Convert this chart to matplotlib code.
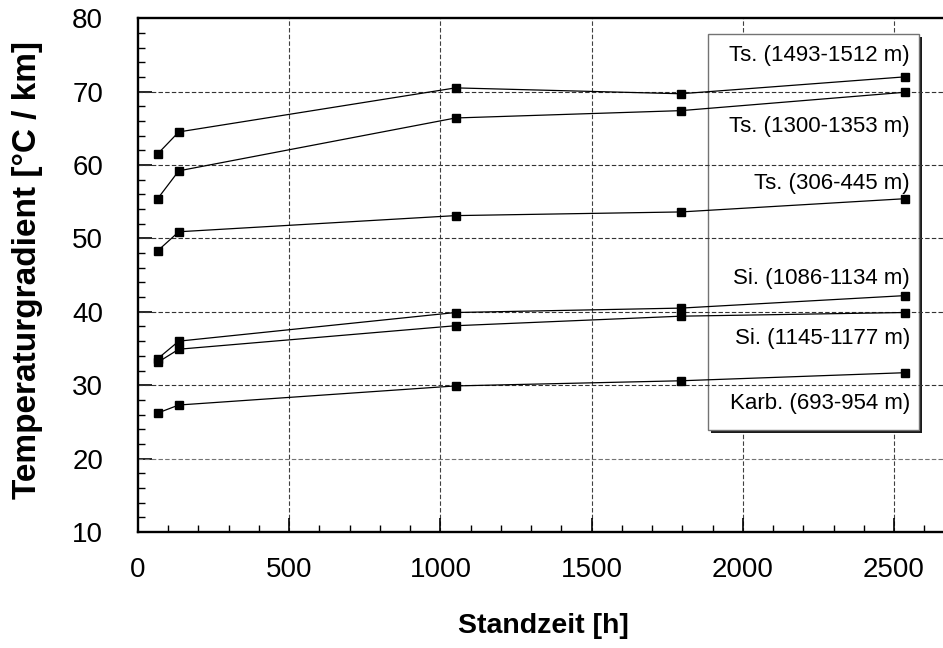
import matplotlib.pyplot as plt
from matplotlib.patches import Rectangle

plt.rcParams['font.family'] = ['Liberation Sans', 'DejaVu Sans']

# Standzeit [h]
zeit = [65, 135, 1050, 1795, 2535]

# Temperaturgradient [°C / km]
ts_1493 = [61.5, 64.5, 70.5, 69.7, 72.0]
ts_1300 = [55.4, 59.2, 66.4, 67.4, 69.9]
ts_306 = [48.3, 50.9, 53.1, 53.6, 55.4]
si_1086 = [33.6, 36.0, 39.9, 40.5, 42.2]
si_1145 = [33.1, 34.9, 38.1, 39.4, 39.9]
karb = [26.2, 27.3, 29.9, 30.6, 31.7]

labels = ["Ts. (1493-1512 m)", "Ts. (1300-1353 m)", "Ts. (306-445 m)",
          "Si. (1086-1134 m)", "Si. (1145-1177 m)", "Karb. (693-954 m)"]
label_y = [0.928, 0.790, 0.679, 0.494, 0.377, 0.251]

x_major = [0, 500, 1000, 1500, 2000, 2500]
y_major = [10, 20, 30, 40, 50, 60, 70, 80]

fig = plt.figure(figsize=(9.43, 6.48), dpi=100)
ax = fig.add_axes([0.1463, 0.179, 0.8537, 0.793])

for series in [ts_1493, ts_1300, ts_306, si_1086, si_1145, karb]:
    ax.plot(zeit, series, color="black", lw=0.9, marker="s", ms=6.3,
            mfc="black", mec="black", zorder=4)

ax.set_xlim(0, 2662)
ax.set_ylim(10, 80)
ax.set_xticks(x_major)
ax.set_xticks(range(0, 2700, 100), minor=True)
ax.set_yticks(y_major)
ax.set_yticks(range(10, 81, 2), minor=True)
ax.tick_params(which="major", direction="in", length=10, width=1.2,
               labelsize=20)
ax.tick_params(which="minor", direction="in", length=5, width=1.0)
ax.tick_params(axis="x", pad=18)
ax.tick_params(axis="y", pad=25)

# grid: vertical lines below the label box, horizontal ones across it
for xv in x_major[1:]:
    ax.axvline(xv, color="0.25", lw=0.8, ls=(0, (4, 2)), zorder=0.5)
for yv in y_major[1:-1]:
    ax.axhline(yv, color="0.45" if yv == 20 else "0.2", lw=0.8,
               ls=(0, (4, 2)), zorder=2)

for s in ax.spines.values():
    s.set_linewidth(1.7)
    s.set_zorder(5)
ax.spines["right"].set_visible(False)

ax.set_xlabel("Standzeit [h]", fontsize=20.5, fontweight="bold")
ax.xaxis.set_label_coords(0.504, -0.158)
ax.text(-0.137, 0.51, "Temperaturgradient [°C / km]", transform=ax.transAxes,
        rotation=90, ha="center", va="center", fontsize=24, fontweight="bold")

# label box with shadow
bx, by, bw, bh = 0.708, 0.198, 0.2617, 0.772
ax.add_patch(Rectangle((bx + 0.004, by - 0.006), bw, bh, transform=ax.transAxes,
                       facecolor="0.1", edgecolor="none", zorder=1))
ax.add_patch(Rectangle((bx, by), bw, bh, transform=ax.transAxes,
                       facecolor="white", edgecolor="0.45", lw=1, zorder=1.5))
for lab, yy in zip(labels, label_y):
    ax.text(0.959, yy, lab, transform=ax.transAxes, ha="right", va="center",
            fontsize=16, zorder=4)

fig.savefig("out.png", dpi=100)
